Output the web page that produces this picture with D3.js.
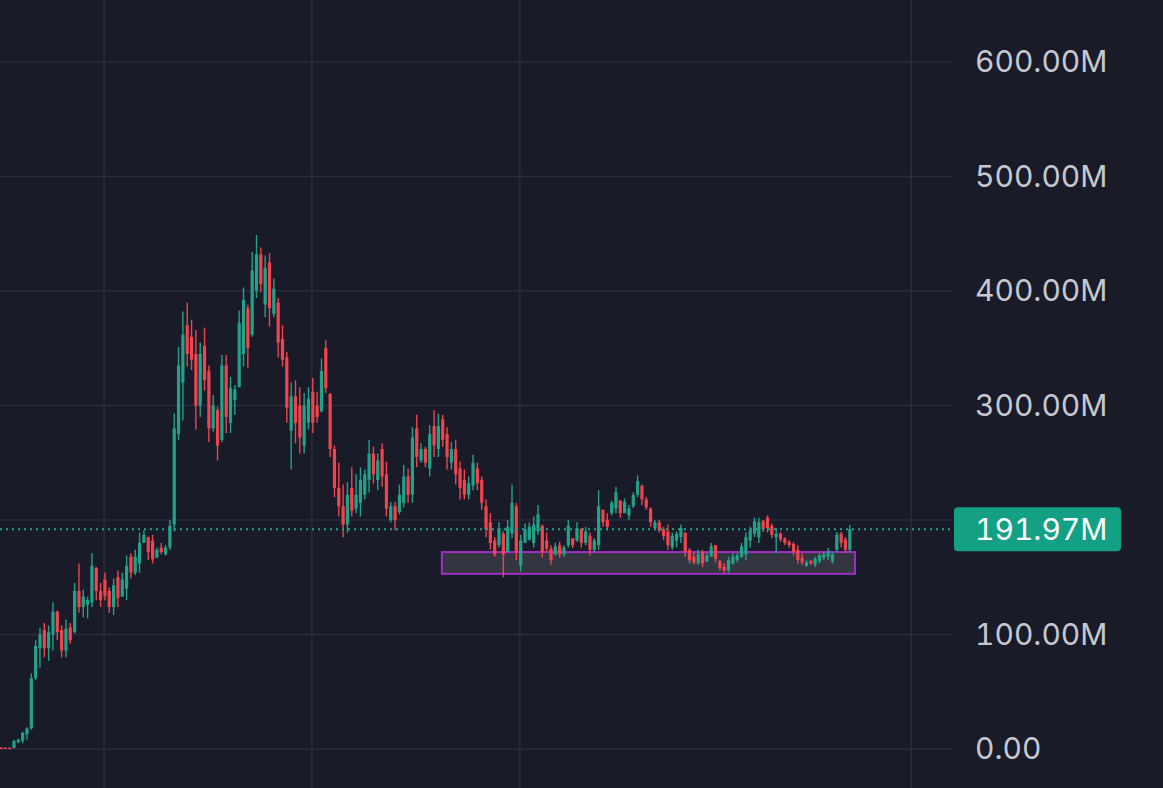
<!DOCTYPE html>
<html>
<head>
<meta charset="utf-8">
<script src="https://d3js.org/d3.v7.min.js"></script>
<style>
  html, body { margin: 0; padding: 0; background: #191b28; overflow: hidden; }
  svg { display: block; }
</style>
</head>
<body>
<svg id="chart" width="1163" height="788"></svg>
<script>
// candles as [open, high, low, close], values in millions
const launch = [
  [1.2,1.8,0.5,1.0],[1.0,1.5,0.4,0.8],[1.0,1.4,0.3,0.8],[1.0,8,0.6,7],[6,9,5,8],
  [7,15,5,14],[13,19,8,18],[18,66,17,62],[62,95,60,90],[88,106,71,100],
  [104,110,80,88],[88,108,77,102],[100,128,86,120],[120,121,95,102],[104,108,80,86],
  [86,113,80,105],[106,110,92,95],[102,145,101,138],[138,162,119,124],[124,139,115,133],
  [126,133,114,130],[128,171,124,160],[158,159,130,138],[138,145,124,130],[148,154,130,134],
  [138,141,119,124],[124,149,117,143],[150,156,124,132],[133,154,133,148],[140,169,130,160],
  [168,171,149,154],[154,174,152,168],[162,189,154,180],[180,191,180,187],[185,185.5,165,172],
  [182,187,162,166],[167,176,167,174],[176,180,170,172],[170,178,169,176],[176,200,174,195]
];
const firstPeak = [
  [196,293,190,280],[275,351,270,335],[320,382,287,362],[370,390,334,345],[360,375,331,340],
  [345,366,279,300],[300,355,290,345],[352,368,313,322],[330,335,268,280],[280,309,277,300],
  [296,299,252,265],[270,344,268,335],[335,344,276,290],[285,325,276,315],[305,318,292,314],
  [316,383,316,372],[345,403,334,392],[385,388,333,350],[362,434,360,418],[400,449,394,432],
  [432,438,399,406],[388,431,377,420],[425,433,369,385],[380,411,377,402],[390,394,342,355],
  [358,370,334,340],[342,347,285,298]
];
const pullback = [
  [278,320,244,308],[308,322,267,285],[300,316,258,272],[265,311,258,300],[285,316,279,306],
  [312,324,276,285],[300,312,285,290],[295,341,294,330],[350,357,311,315],[310,311,255,262],
  [262,265,220,228],[228,250,203,212],[212,231,185,196],[196,233,189,222],[228,246,203,208],
  [210,240,206,222],[215,246,203,235],[222,244,218,240],[235,270,224,258],[258,264,232,240],
  [235,258,226,252],[262,267,229,238],[240,251,203,210],[200,216,198,212],[212,216,191,200],
  [207,231,205,222],[215,248,211,238],[238,245,215,222],[222,281,215,272],[280,292,246,255],
  [252,267,250,262],[262,264,246,250],[245,283,238,275],[282,296,255,265],[262,293,255,282],
  [288,292,264,270],[275,281,244,255],[250,268,244,262],[262,270,231,240],[245,251,218,228],
  [235,244,218,222],[222,238,218,232],[230,257,226,250],[245,250,226,232],[235,238,209,215],
  [212,218,185,192],[198,206,174,180],[182,185,168,170],[178,198,176,193]
];
const base = [
  [188,190,150,170],[172,200,172,194],[188,231,184,215],[212,215,165,172],[160,187,155,182],
  [180,197,180,192],[183,198,182,194],[180,203,176,196],[190,213,187,205],[195,196,167,172],
  [182,189,172,175],[175,178,161,165],[170,180,169,177],[178,181,167,170],[170,178,168,176],
  [178,200,176,195],[184,184,175.5,178],[182,198,181,193],[192,193,176,180],[180,194,178,190],
  [186,189,169,174],[174,184,172,182],[178,226,174,212],[209,209,194,198],[200,206,191,194],
  [206,217,204,215],[210,229,206,224],[217,217.5,202,206],[206,219,206,216],[204,213,200,210],
  [212,224,210.5,222],[222,239,220,234],[230,231,213,218],[218,220,209,211],[210,211,194,198],
  [193,200,191,198],[198,200,189,191],[192,194,182.5,186],[190,196,174,178],[176,189,174,186],
  [182,190,176,188],[185,196,180,193],[189,189,168,172],[174,175.5,162,165],[168,172,161,163],
  [162,174,161,170],[172,174,159,162],[164,171,163,169],[168,180,168,177],[178,178,163,166],
  [164,165,156,158],[159,162,154,156],[156,168,154,165],[162,171,161,168],[165,171,163,169],
  [168,180,167,177],[170,189,165,185],[182,194,176,191],[188,202,185,199],[185,202,180,198],
  [199,200,189.5,192],[202,204,189,193],[195,197,184,187],[185,193,171,188],[188,189.5,181,183],
  [184,185,178,180],[181,182.5,176,178],[179,181,169,172],[174,178,162,165],[167,171,161,163],
  [160,165,159,163],[164,165,161,162],[161,168,159,166],[164,171,162,169],[167,172,165,170],
  [168,175.5,165,173],[164,172,162,170],[174,189.5,172,187],[188,189.5,176,180],[183,185,171,174],
  [174,195.6,172,191.97]
];

const gridValues = [0, 100, 200, 300, 400, 500, 600];
const labelValues = [0, 100, 300, 400, 500, 600];   // 200M hidden behind the price tag
const timeTicks = [23.8, 71.8, 119.8, 210.2];       // vertical grid positions (bar index)
const zone = { from: 101.8, to: 197.2, top: 172, bottom: 153 };

const candles = launch.concat(firstPeak, pullback, base)
  .map((d, i) => ({ i: i, o: d[0], h: d[1], l: d[2], c: d[3] }));
const last = candles[candles.length - 1].c;

const svg = d3.select("#chart");
const width = 1163, height = 788, plotRight = 952;

const x = d3.scaleLinear().domain([0, 219.6]).range([1, plotRight]);
const y = d3.scaleLinear().domain([0, 600]).range([749, 62]);

const up = "#22a389", down = "#f0444f";
const font = "Inter, 'Noto Sans', sans-serif";

// grid
const grid = svg.append("g").attr("stroke", "#2a2d3b").attr("stroke-width", 1.5);
grid.selectAll("line.h").data(gridValues).join("line")
  .attr("class", "h")
  .attr("x1", 0).attr("x2", plotRight)
  .attr("y1", d => y(d)).attr("y2", d => y(d));
grid.selectAll("line.v").data(timeTicks).join("line")
  .attr("class", "v")
  .attr("x1", d => x(d)).attr("x2", d => x(d))
  .attr("y1", 0).attr("y2", height);

// support zone
svg.append("rect")
  .attr("x", x(zone.from)).attr("y", y(zone.top))
  .attr("width", x(zone.to) - x(zone.from))
  .attr("height", y(zone.bottom) - y(zone.top))
  .attr("fill", "#383944").attr("fill-opacity", 0.85)
  .attr("stroke", "#a02fc4").attr("stroke-width", 2);

// candles
const bars = svg.append("g").selectAll("g").data(candles).join("g")
  .attr("fill", d => d.c >= d.o ? up : down)
  .attr("stroke", d => d.c >= d.o ? up : down);
bars.append("line")
  .attr("x1", d => x(d.i)).attr("x2", d => x(d.i))
  .attr("y1", d => y(d.h)).attr("y2", d => y(d.l))
  .attr("stroke-width", 1.4);
bars.append("rect")
  .attr("stroke", "none")
  .attr("x", d => x(d.i) - 1.6)
  .attr("width", 3.2)
  .attr("y", d => y(Math.max(d.o, d.c)))
  .attr("height", d => Math.max(1.2, Math.abs(y(d.o) - y(d.c))));

// last price line
svg.append("line")
  .attr("x1", 0).attr("x2", plotRight)
  .attr("y1", y(last)).attr("y2", y(last))
  .attr("stroke", "#1fa68a").attr("stroke-width", 2)
  .attr("stroke-dasharray", "2,4");

// price axis
const axis = svg.append("g")
  .attr("transform", "translate(975,0)")
  .call(d3.axisRight(y).tickValues(labelValues).tickSize(0).tickPadding(0)
    .tickFormat(d => d === 0 ? "0.00" : d3.format(".2f")(d) + "M"));
axis.select(".domain").remove();
axis.selectAll("text")
  .attr("fill", "#c6c8d0")
  .style("font-family", font)
  .style("font-size", "30px")
  .style("font-variant-numeric", "tabular-nums");

// last price tag
svg.append("rect")
  .attr("x", 954).attr("y", y(last) - 22)
  .attr("width", 167).attr("height", 44).attr("rx", 4)
  .attr("fill", "#13a084");
svg.append("text")
  .attr("x", 975).attr("y", y(last)).attr("dy", "0.35em")
  .attr("fill", "#ffffff")
  .style("font-family", font)
  .style("font-size", "30px")
  .style("font-variant-numeric", "tabular-nums")
  .text(d3.format(".2f")(last) + "M");
</script>
</body>
</html>
